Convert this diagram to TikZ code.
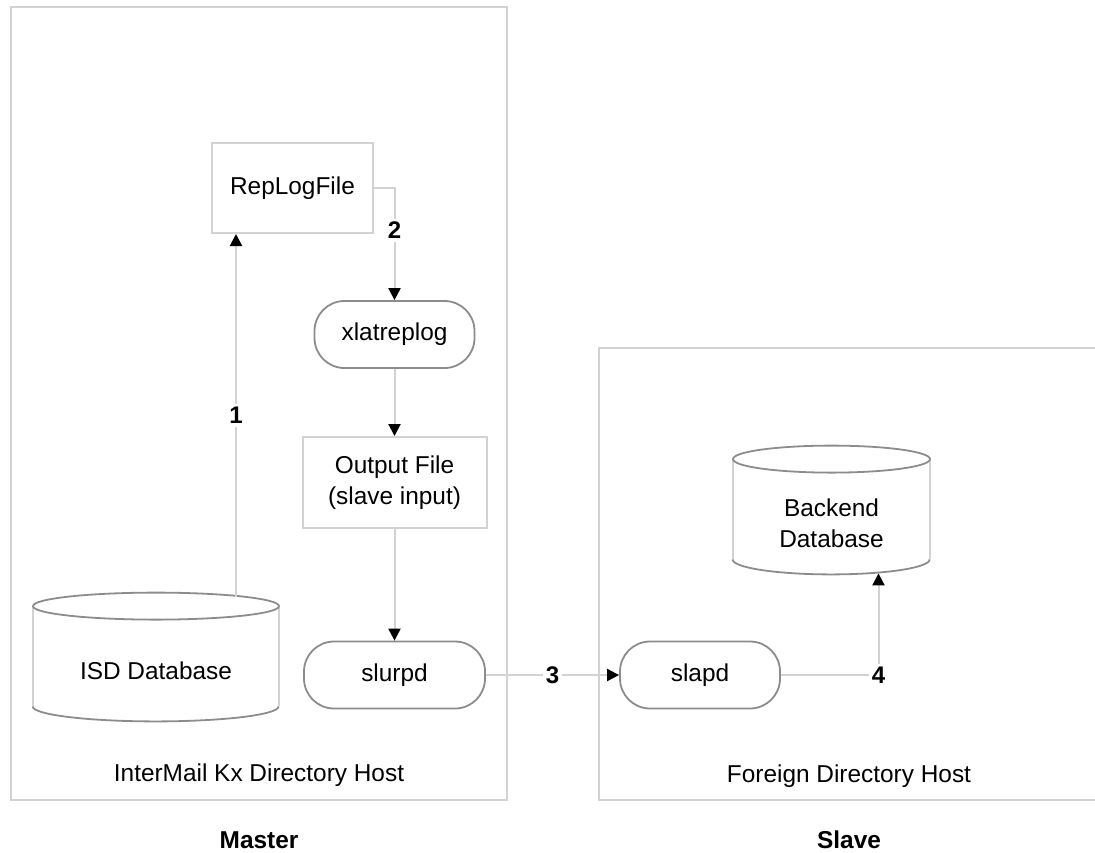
\documentclass[tikz,border=0pt]{standalone}
\usepackage{fontspec}
\setmainfont{Liberation Sans}
\usetikzlibrary{arrows.meta}

\definecolor{boxgray}{RGB}{210,210,210}
\definecolor{rimgray}{RGB}{140,140,140}

% database drum drawn round a named node: #1 node, #2 half width
\newcommand{\dbdrum}[2]{%
	\draw[draw=boxgray,line width=1pt]
		([yshift=6.75pt]#1.north west) -- ([yshift=7.5pt]#1.south west)
		([yshift=6.75pt]#1.north east) -- ([yshift=7.5pt]#1.south east);
	\draw[draw=rimgray,line width=0.9pt] ([yshift=6.75pt]#1.north) ellipse[x radius=#2,y radius=6.75pt];
	\draw[draw=rimgray,line width=0.9pt] ([yshift=7.5pt]#1.south west)
		arc[start angle=180,end angle=360,x radius=#2,y radius=7.5pt];}

\begin{document}
\begin{tikzpicture}[x=0.5pt,y=-0.5pt,
	>={Triangle[color=black,length=6pt,width=6pt]},
	every node/.style={font=\fontsize{12.2}{15.5}\selectfont,align=center},
	hostline/.style={draw=boxgray,line width=1.25pt},
	filebox/.style={draw=boxgray,line width=1pt,minimum height=45pt},
	procpill/.style={draw=rimgray,line width=0.9pt,rounded corners=15pt,minimum height=33.5pt},
	dbbody/.style={minimum width=#1,minimum height=50.5pt,inner sep=0pt},
	flow/.style={draw=boxgray,line width=1pt,->},
	steplabel/.style={fill=white,inner sep=1.5pt,font=\fontsize{12}{12}\selectfont\bfseries},
	tag/.style={font=\fontsize{12.2}{15}\selectfont\bfseries}]
	
	\useasboundingbox (0,0) rectangle (1095,852);
	
	% hosts
	\draw[hostline] (11,7) rectangle (507,800);
	\draw[hostline] (1098,348) -- (599,348) -- (599,800) -- (1098,800);
	\node (masterhost) at (259,775) {InterMail Kx Directory Host};
	\node (slavehost)  at (849,776) {Foreign Directory Host};
	\node[tag] (mastertag) at (259,840) {Master};
	\node[tag] (slavetag)  at (849,840) {Slave};
	
	% master side
	\node[filebox,minimum width=80.5pt] (replog) at (292.5,188) {RepLogFile};
	\node[procpill,minimum width=80pt] (xlat) at (394.5,334.5) {xlatreplog};
	\node[filebox,minimum width=92pt,minimum height=45.5pt] (outfile) at (394.5,482.5) {Output File\\(slave input)};
	\node[procpill,minimum width=90.5pt] (slurpd) at (394.5,675) {slurpd};
	\node[dbbody=123pt] (isd) at (156,670.5) {ISD Database};
	\dbdrum{isd}{61.5pt}
	
	% slave side
	\node[procpill,minimum width=80pt] (slapd) at (700,675) {slapd};
	\node[dbbody=98.5pt] (backend) at (831.5,523.5) {Backend\\Database};
	\dbdrum{backend}{49.25pt}
	
	\coordinate (isdtop) at (236,597);
	\draw[flow] (isdtop) -- node[steplabel]{1} (isdtop |- replog.south);
	\draw[flow] (replog.east) -| node[steplabel,pos=0.69]{2} (xlat.north);
	\draw[flow] (xlat) -- (outfile);
	\draw[flow] (outfile) -- (slurpd);
	\draw[flow] (slurpd) -- node[steplabel]{3} (slapd);
	\draw[flow] (slapd.east) -| node[steplabel,pos=0.5]{4} ([xshift=23.5pt,yshift=0.5pt]backend.south);
\end{tikzpicture}
\end{document}
